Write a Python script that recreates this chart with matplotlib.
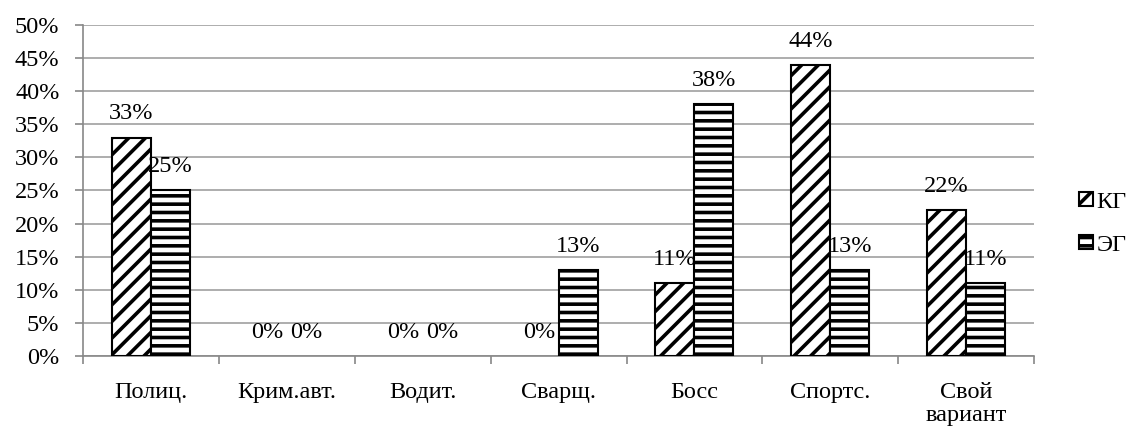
import matplotlib
matplotlib.use("Agg")
import matplotlib.pyplot as plt
import numpy as np

categories = ["Полиц.", "Крим.авт.", "Водит.", "Сварщ.", "Босс", "Спортс.", "Свой\nвариант"]
kg_values = [33, 0, 0, 0, 11, 44, 22]
eg_values = [25, 0, 0, 13, 38, 13, 11]
series_names = ["КГ", "ЭГ"]
y_ticks = [0, 5, 10, 15, 20, 25, 30, 35, 40, 45, 50]

plt.rcParams['font.family'] = ['Liberation Serif', 'DejaVu Serif']
plt.rcParams['hatch.linewidth'] = 2.6

fig = plt.figure(figsize=(11.31, 4.30), dpi=100)
ax = fig.add_axes([0.0734, 0.172, 0.841, 0.770])

x = np.arange(len(categories))
w = 0.287
b1 = ax.bar(x - w/2, kg_values, w, facecolor='white', edgecolor='black', hatch='//',
            linewidth=[1.5 if v > 0 else 0 for v in kg_values], label=series_names[0], zorder=3)
b2 = ax.bar(x + w/2, eg_values, w, facecolor='white', edgecolor='black', hatch='--',
            linewidth=[1.5 if v > 0 else 0 for v in eg_values], label=series_names[1], zorder=3)

fs = 17.5
for bars, vals in ((b1, kg_values), (b2, eg_values)):
    for rect, v in zip(bars, vals):
        ax.annotate(f"{v}%", (rect.get_x() + rect.get_width()/2, v), xytext=(0, 17),
                    textcoords='offset points', ha='center', va='center', fontsize=fs, color='black', zorder=4)

ax.set_xlim(-0.5, len(categories) - 0.5)
ax.set_ylim(0, 50)
ax.set_yticks(y_ticks)
ax.set_yticklabels([f"{t}%" for t in y_ticks], fontsize=fs)
ax.set_xticks(x)
ax.set_xticklabels(categories, fontsize=fs, linespacing=1.15)
ax.set_xticks(np.arange(len(categories) + 1) - 0.5, minor=True)
ax.tick_params(axis='x', which='major', length=0, pad=18.5)
ax.tick_params(axis='x', which='minor', length=6, color='#888888', width=1.2)
ax.tick_params(axis='y', length=6, color='#888888', width=1.2, pad=11)

ax.grid(axis='y', color='#a0a0a0', linewidth=1.2, zorder=0)
for s in ['top', 'right']:
    ax.spines[s].set_visible(False)
ax.spines['left'].set_color('#888888')
ax.spines['bottom'].set_color('#888888')
ax.spines['left'].set_linewidth(1.2)
ax.spines['bottom'].set_linewidth(1.2)

leg = fig.legend(handles=[b1, b2], labels=series_names, loc='center left', bbox_to_anchor=(0.935, 0.48),
                 frameon=False, fontsize=fs, handlelength=0.55, handleheight=0.55, handletextpad=0.15, labelspacing=0.9)
for h in leg.legend_handles:
    h.set_linewidth(1.5)

fig.savefig("out.png", dpi=100)
